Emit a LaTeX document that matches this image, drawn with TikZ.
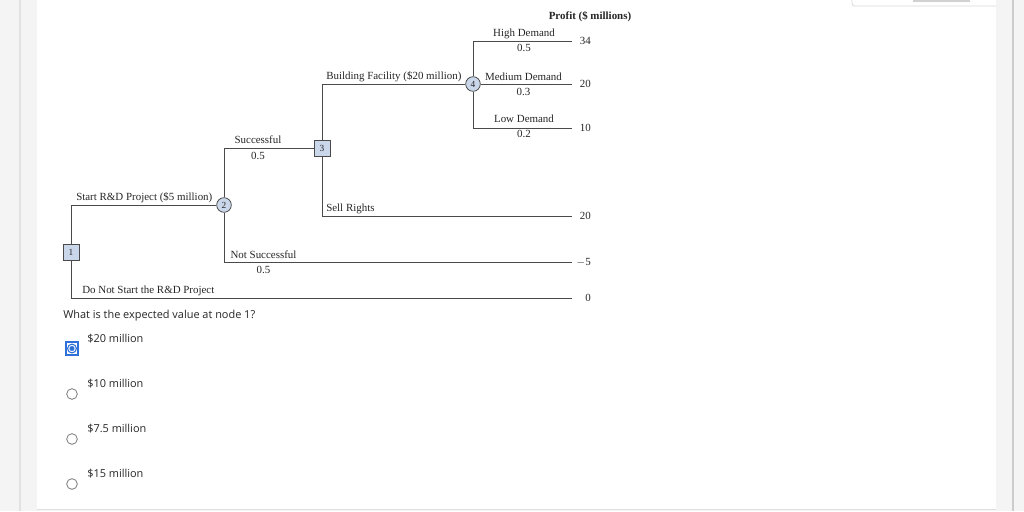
\documentclass[tikz,border=0pt]{standalone}
\usepackage{fontspec}
\setmainfont{Liberation Serif}
\newfontfamily\uifont{Open Sans}
\definecolor{linec}{HTML}{4A4A4A}
\definecolor{nodefill}{HTML}{CAD7EA}
\definecolor{textc}{HTML}{262626}
\definecolor{pagebg}{HTML}{F4F4F4}
\definecolor{stripline}{HTML}{E2E2E2}
\definecolor{radioblue}{HTML}{2F6FD8}
\definecolor{radiogray}{HTML}{7A7A7A}
\begin{document}
\begin{tikzpicture}[x=0.75pt,y=-0.75pt,
  decision/.style={draw=linec, fill=nodefill, line width=0.6pt, minimum size=12pt, inner sep=0pt, font=\fontsize{7}{7}\selectfont, text=textc},
  chance/.style={circle, draw=linec, fill=nodefill, line width=0.6pt, minimum size=11pt, inner sep=0pt, font=\fontsize{7}{7}\selectfont, text=textc},
  branch/.style={draw=linec, line width=0.75pt},
  lbl/.style={font=\fontsize{8.2}{9}\selectfont, text=textc, inner sep=0pt},
  val/.style={font=\fontsize{8.2}{9}\selectfont, text=textc, inner sep=0pt, anchor=base east},
  ui/.style={font=\uifont\fontsize{8.2}{9}\selectfont, text=black!85, inner sep=0pt, anchor=base west},
  radio/.style={circle, draw=radiogray, line width=0.6pt, fill=white, minimum size=8pt, inner sep=0pt}
]
% background
\useasboundingbox (0,0) rectangle (1024,511);
\fill[pagebg] (0,0) rectangle (1024,511);
\fill[white] (37,0) rectangle (996,509);
\draw[stripline, line width=1pt] (20,0) -- (20,511);
\draw[black!20, line width=0.8pt] (1013,0) -- (1013,511);
\draw[black!12, line width=0.8pt] (37,509.5) -- (996,509.5);
\draw[black!15, line width=0.6pt, rounded corners=2pt] (852,-4) -- (852,6) -- (996,6);
\fill[black!18] (913,0) rectangle (970,2);

% nodes
\node[decision] (n1) at (71,252) {1};
\node[chance] (n2) at (224,205) {2};
\node[decision] (n3) at (322,148) {3};
\node[chance] (n4) at (473,84) {4};
\coordinate (e34) at (572,41);
\coordinate (e20a) at (572,84);
\coordinate (e10) at (572,128);
\coordinate (e20b) at (572,216);
\coordinate (em5) at (572,262);
\coordinate (e0) at (572,298);

% branches
\draw[branch] (n1.north) |- (n2.west);
\draw[branch] (n1.south) |- (e0);
\draw[branch] (n2.north) |- (n3.west);
\draw[branch] (n2.south) |- (em5);
\draw[branch] (n3.north) |- (n4.west);
\draw[branch] (n3.south) |- (e20b);
\draw[branch] (n4.north) |- (e34);
\draw[branch] (n4.east) -- (e20a);
\draw[branch] (n4.south) |- (e10);

% labels
\node[lbl, font=\bfseries\fontsize{8.2}{9}\selectfont, anchor=base] (hdr) at (590,19.5) {Profit (\$ millions)};
\node[lbl, anchor=base west] (l1) at (76,200.5) {Start R\&D Project (\$5 million)};
\node[lbl, anchor=base] (l2) at (258,143.5) {Successful};
\node[lbl, anchor=base] (p2) at (258,159) {0.5};
\node[lbl, anchor=base] (l3) at (263.5,258.5) {Not Successful};
\node[lbl, anchor=base] (p3) at (263.5,273.5) {0.5};
\node[lbl, anchor=base west] (l4) at (82,293.5) {Do Not Start the R\&D Project};
\node[lbl, anchor=base west] (l5) at (326,79.5) {Building Facility (\$20 million)};
\node[lbl, anchor=base west] (l6) at (326,211.5) {Sell Rights};
\node[lbl, anchor=base] (l7) at (524,36) {High Demand};
\node[lbl, anchor=base] (p7) at (524,51.5) {0.5};
\node[lbl, anchor=base] (l8) at (523.5,80.5) {Medium Demand};
\node[lbl, anchor=base] (p8) at (523.5,95) {0.3};
\node[lbl, anchor=base] (l9) at (524,122.5) {Low Demand};
\node[lbl, anchor=base] (p9) at (524,137.5) {0.2};

% values
\node[val] (v1) at (591,44.5) {34};
\node[val] (v2) at (591,87.5) {20};
\node[val] (v3) at (591,131) {10};
\node[val] (v4) at (591,219.5) {20};
\node[val] (v5) at (591,265.5) {$-$5};
\node[val] (v6) at (591,301.5) {0};

% question
\node[ui] (q) at (63,318) {What is the expected value at node 1?};
\node[ui] (o1) at (87,342) {\$20 million};
\node[ui] (o2) at (87,387) {\$10 million};
\node[ui] (o3) at (87,432) {\$7.5 million};
\node[ui] (o4) at (87,477) {\$15 million};

% radios
\node[draw=radioblue, line width=1.4pt, minimum size=9.5pt, inner sep=0pt, fill=white] (r1) at (72,348.5) {};
\node[circle, draw=radioblue, line width=0.8pt, minimum size=6.6pt, inner sep=0pt] (r1c) at (r1) {};
\node[circle, fill=radioblue, minimum size=3.8pt, inner sep=0pt] (r1d) at (r1) {};
\node[radio] (r2) at (72,394) {};
\node[radio] (r3) at (72,439) {};
\node[radio] (r4) at (72,484) {};
\end{tikzpicture}
\end{document}
